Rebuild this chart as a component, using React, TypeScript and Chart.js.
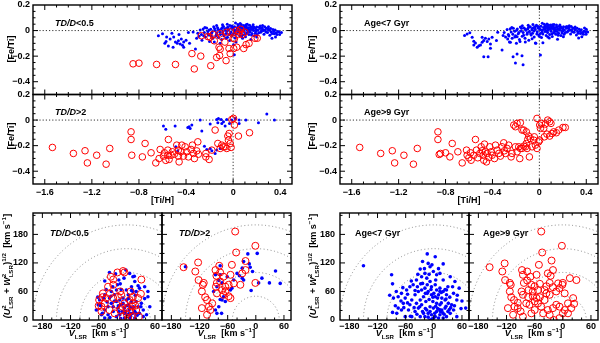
import React, { useEffect, useRef } from 'react';
import { Chart, registerables } from 'chart.js';

Chart.register(...registerables);

const W = 600;
const H = 343;
const M = 40;
const FONT = '"Liberation Sans", Arial, sans-serif';

// ---- axis ranges and tick values ----
const tiHRange = [-1.7, 0.5];
const feTiRange = [-0.5, 0.2];
const vLsrRange = [-200, 75];
const uwRange = [0, 225];
const tiHTicks = [-1.6, -1.2, -0.8, -0.4, 0, 0.4];
const feTiTicks = [-0.4, -0.2, 0, 0.2];
const vLsrTicks = [-180, -120, -60, 0, 60];
const uwTicks = [0, 60, 120, 180];
const circleRadii = [50, 100, 150, 200];

// ---- [Fe/Ti] vs [Ti/H] : TD/D < 0.5 ----
const tdLowBlueAbund = [
  [-0.635, -0.04], [-0.6, -0.025], [-0.57, -0.085], [-0.565, -0.05], [-0.55, -0.12], [-0.535, -0.065], [-0.51, -0.13], [-0.505, -0.05],
  [-0.49, -0.09], [-0.475, -0.1], [-0.465, -0.08], [-0.45, -0.105], [-0.44, -0.065], [-0.43, -0.115], [-0.42, -0.09], [-0.42, -0.13],
  [-0.4, -0.075], [-0.38, -0.015], [-0.37, -0.1], [-0.34, -0.012], [-0.32, -0.145], [-0.31, -0.06], [-0.52, -0.02], [-0.46, -0.03], [-0.58, -0.1],
  [-0.3, -0.02], [-0.29, -0.045], [-0.28, 0.005], [-0.27, -0.03], [-0.265, -0.075], [-0.255, 0.012], [-0.245, -0.015], [-0.235, -0.05],
  [-0.225, 0.02], [-0.215, -0.008], [-0.205, -0.035], [-0.2, -0.085], [-0.19, 0.01], [-0.185, -0.02], [-0.172, -0.06], [-0.165, 0.03],
  [-0.155, 0.0], [-0.148, -0.042], [-0.14, -0.018], [-0.132, 0.022], [-0.125, -0.055], [-0.118, 0.004], [-0.108, -0.03], [-0.1, 0.012],
  [-0.098, -0.07], [-0.088, -0.01], [-0.082, 0.032], [-0.076, -0.04], [-0.068, 0.002], [-0.06, -0.022], [-0.055, 0.02], [-0.048, -0.052],
  [-0.04, 0.008], [-0.035, -0.03], [-0.028, 0.04], [-0.02, -0.012], [-0.015, 0.018], [-0.008, -0.038], [0.0, 0.01], [0.004, -0.02],
  [0.012, 0.03], [0.015, -0.058], [0.02, 0.0], [0.028, -0.028], [0.033, 0.022], [0.04, 0.048], [0.044, -0.01], [0.05, 0.012],
  [0.055, -0.04], [0.06, 0.03], [0.065, -0.018], [0.072, 0.004], [0.078, 0.024], [0.083, -0.032], [0.09, 0.04], [0.094, -0.008],
  [0.1, 0.014], [0.105, -0.048], [0.112, 0.03], [0.115, -0.02], [0.122, 0.002], [0.13, 0.022], [0.134, -0.03], [0.14, 0.042],
  [0.145, -0.01], [0.152, 0.01], [0.16, -0.022], [0.165, 0.032], [0.172, 0.0], [0.18, -0.04], [0.185, 0.018], [0.192, -0.008],
  [0.2, 0.028], [0.21, 0.002], [0.218, -0.018], [0.228, 0.016], [0.24, -0.006], [0.25, 0.01], [0.262, -0.028], [0.272, 0.004],
  [0.282, 0.018], [0.292, -0.016], [0.305, 0.002], [0.312, -0.036], [0.322, -0.01], [0.338, 0.008], [0.35, -0.025], [0.365, -0.018],
  [0.38, -0.008], [0.395, -0.03], [0.41, -0.015], [0.36, -0.05], [0.33, -0.06], [0.2, -0.05], [0.15, -0.07], [0.025, -0.09],
  [-0.03, -0.078], [0.01, -0.19], [-0.11, -0.1], [-0.16, -0.09], [0.08, -0.06], [-0.05, 0.05], [0.02, 0.06], [0.06, 0.055],
  [0.12, 0.05], [-0.24, 0.025], [-0.14, 0.04], [0.25, 0.04], [0.3, 0.03], [-0.09, 0.045], [0.045, 0.035], [0.07, 0.045],
  [0.11, 0.045], [-0.01, 0.035], [0.17, 0.045], [0.23, 0.035], [0.004, -0.11],
  [-0.215, -0.025], [-0.205, 0.004], [-0.178, -0.012], [-0.158, 0.016], [-0.142, -0.03], [-0.128, 0.008], [-0.112, -0.014],
  [-0.094, 0.022], [-0.086, -0.026], [-0.072, 0.014], [-0.052, -0.006], [-0.044, 0.026], [-0.024, -0.024], [-0.004, 0.026],
  [0.008, 0.004], [0.018, -0.012], [0.036, 0.008], [0.047, 0.026], [0.062, -0.006], [0.068, 0.018], [0.086, 0.01], [0.098, 0.028],
  [0.104, -0.026], [0.118, 0.014], [0.126, -0.01], [0.138, 0.006], [0.149, 0.026], [0.156, -0.034], [0.168, 0.014], [0.178, 0.026],
  [0.188, -0.02], [0.196, 0.008], [0.204, -0.03], [0.222, 0.026], [0.234, -0.014], [0.246, 0.022], [0.258, 0.0], [0.268, 0.03],
  [0.278, -0.012], [0.296, 0.012], [0.318, 0.016], [0.33, -0.022], [0.344, -0.008], [0.356, 0.004], [0.372, -0.03], [0.39, -0.012],
  [-0.25, -0.04], [-0.185, -0.045], [-0.06, -0.06], [0.07, -0.045],
];
const tdLowRedAbund = [
  [-0.85, -0.26], [-0.8, -0.255], [-0.65, -0.265], [-0.49, -0.265], [-0.33, -0.3], [-0.19, -0.275], [-0.35, -0.18], [-0.275, -0.2],
  [-0.14, -0.21], [-0.115, -0.195], [-0.06, -0.235], [-0.12, -0.13], [-0.11, -0.145], [-0.07, -0.09], [-0.025, -0.18], [-0.035, -0.14],
  [0.005, -0.14], [0.03, -0.13], [0.09, -0.14], [0.11, -0.11], [0.135, -0.1], [0.185, -0.06], [0.205, -0.06], [0.0, -0.06],
  [0.01, -0.065], [0.03, 0.0], [0.05, -0.01], [0.065, 0.01], [-0.27, -0.04], [-0.215, -0.047], [-0.195, -0.052], [-0.17, -0.03],
  [-0.16, -0.08], [-0.11, -0.025], [-0.1, -0.045], [0.045, -0.03], [0.08, -0.03], [0.1, -0.013], [-0.055, -0.013], [-0.025, -0.01],
];

// ---- [Fe/Ti] vs [Ti/H] : TD/D > 2 ----
const tdHighBlueAbund = [
  [-0.592, -0.047], [-0.572, -0.071], [-0.493, -0.047], [-0.385, -0.058], [-0.374, -0.052], [-0.351, -0.039], [-0.365, -0.065],
  [-0.28, 0.0], [-0.266, -0.086], [-0.195, -0.031], [-0.139, 0.005], [-0.13, -0.021], [-0.125, 0.013], [-0.102, 0.005],
  [-0.096, -0.026], [-0.082, -0.013], [-0.068, -0.047], [-0.054, 0.005], [-0.031, -0.026], [-0.011, 0.0], [0.017, 0.013],
  [0.051, 0.0], [0.051, -0.026], [0.108, 0.0], [0.215, -0.021], [0.286, 0.047], [0.351, 0.0], [-0.244, -0.204],
  [-0.224, -0.23], [-0.195, -0.222], [-0.181, -0.24], [-0.153, -0.261], [-0.139, -0.235], [-0.11, -0.222], [-0.487, -0.209], [-0.47, -0.24],
];
const tdHighRedAbund = [
  [-1.535, -0.214], [-1.357, -0.261], [-1.258, -0.24], [-1.238, -0.335], [-1.159, -0.275], [-1.079, -0.345], [-1.048, -0.222],
  [-0.867, -0.092], [-0.867, -0.152], [-0.861, -0.275], [-0.771, -0.288], [-0.748, -0.183], [-0.697, -0.256], [-0.657, -0.335],
  [-0.62, -0.23], [-0.629, -0.301], [-0.592, -0.282], [-0.584, -0.256], [-0.555, -0.275], [-0.544, -0.308], [-0.527, -0.275],
  [-0.555, -0.235], [-0.516, -0.248], [-0.499, -0.267], [-0.479, -0.196], [-0.465, -0.235], [-0.465, -0.282], [-0.459, -0.327],
  [-0.442, -0.248], [-0.422, -0.282], [-0.408, -0.209], [-0.394, -0.248], [-0.38, -0.288], [-0.357, -0.23], [-0.346, -0.196],
  [-0.337, -0.261], [-0.329, -0.301], [-0.309, -0.241], [-0.3, -0.17], [-0.295, -0.267], [-0.55, -0.152], [-0.572, -0.315],
  [-0.436, -0.196], [-0.232, -0.261], [-0.232, -0.288], [-0.204, -0.308], [-0.181, -0.235], [-0.153, -0.078], [-0.13, -0.183],
  [-0.11, -0.222], [-0.096, -0.196], [-0.082, -0.209], [-0.068, -0.209], [-0.054, -0.222], [-0.045, -0.125], [-0.04, -0.157],
  [-0.034, -0.105], [-0.025, -0.183], [-0.017, -0.214], [-0.011, 0.005], [0.003, 0.013], [0.011, -0.039], [0.045, -0.125], [0.139, -0.099],
];

// ---- [Fe/Ti] vs [Ti/H] : Age < 7 Gyr ----
const youngBlueAbund = [
  [-0.638, -0.039], [-0.616, -0.026], [-0.593, -0.018], [-0.573, -0.052], [-0.559, -0.084], [-0.559, -0.112], [-0.545, -0.097],
  [-0.53, -0.131], [-0.516, -0.118], [-0.502, -0.112], [-0.488, -0.052], [-0.488, -0.092], [-0.474, -0.078], [-0.46, -0.06],
  [-0.445, -0.086], [-0.431, -0.065], [-0.417, -0.105], [-0.417, -0.139], [-0.403, -0.052], [-0.366, -0.078], [-0.355, -0.013],
  [-0.318, -0.152], [-0.309, -0.039], [-0.474, -0.204], [-0.437, -0.204],
  [-0.224, -0.204], [-0.19, -0.183], [-0.148, -0.196], [-0.204, -0.254], [-0.139, -0.267], [0.009, -0.191],
  [-0.3, -0.015], [-0.288, -0.05], [-0.275, 0.008], [-0.265, -0.03], [-0.255, -0.09], [-0.248, 0.015], [-0.24, -0.012],
  [-0.232, -0.06], [-0.222, 0.018], [-0.21, -0.005], [-0.202, -0.04], [-0.196, -0.1], [-0.188, 0.012], [-0.18, -0.025],
  [-0.17, -0.07], [-0.162, 0.028], [-0.155, -0.004], [-0.146, -0.045], [-0.138, -0.015], [-0.13, 0.02], [-0.122, -0.06],
  [-0.115, 0.002], [-0.105, -0.028], [-0.098, 0.015], [-0.09, -0.075], [-0.085, -0.008], [-0.078, 0.03], [-0.07, -0.035],
  [-0.064, 0.004], [-0.058, -0.02], [-0.05, 0.022], [-0.044, -0.05], [-0.036, 0.01], [-0.03, -0.1], [-0.025, 0.042],
  [-0.018, -0.01], [-0.012, 0.02], [-0.005, -0.035], [0.002, 0.012], [0.008, -0.022], [0.014, 0.034], [0.018, -0.055],
  [0.024, 0.002], [0.03, -0.026], [0.036, 0.024], [0.042, 0.05], [0.048, -0.008], [0.053, 0.014], [0.058, -0.038],
  [0.064, 0.032], [0.07, -0.016], [0.076, 0.006], [0.082, 0.026], [0.088, -0.03], [0.094, 0.044], [0.1, -0.006],
  [0.106, 0.016], [0.11, -0.046], [0.116, 0.032], [0.122, -0.018], [0.128, 0.004], [0.134, 0.024], [0.14, -0.028],
  [0.146, 0.044], [0.152, -0.008], [0.158, 0.012], [0.164, -0.02], [0.17, 0.034], [0.176, 0.002], [0.184, -0.038],
  [0.19, 0.02], [0.198, -0.006], [0.206, 0.03], [0.214, 0.004], [0.222, -0.016], [0.232, 0.018], [0.244, -0.004],
  [0.254, 0.012], [0.266, -0.026], [0.276, 0.006], [0.286, 0.02], [0.296, -0.014], [0.308, 0.004], [0.316, -0.034],
  [0.326, -0.008], [0.34, 0.01], [0.352, -0.022], [0.368, -0.016], [0.382, -0.006], [0.398, -0.028], [0.412, -0.012],
  [0.362, -0.048], [0.335, -0.058], [0.205, -0.048], [0.155, -0.068], [0.03, -0.095], [-0.034, -0.097], [-0.247, -0.092],
  [-0.12, -0.09], [-0.165, -0.085], [0.085, -0.058], [-0.055, 0.048], [0.025, 0.058], [0.065, 0.052], [0.125, 0.048],
  [-0.235, 0.025], [-0.145, 0.038], [0.255, 0.038], [0.305, 0.028], [-0.095, 0.042], [0.05, 0.038], [0.075, 0.044],
  [0.112, 0.046], [-0.015, 0.034], [0.175, 0.044], [0.235, 0.032], [0.0, -0.045], [-0.21, -0.05], [-0.27, -0.065],
  [0.385, 0.02], [0.4, 0.01],
  [-0.226, -0.028], [-0.194, 0.002], [-0.174, -0.016], [-0.152, 0.018], [-0.134, -0.036], [-0.118, 0.01], [-0.102, -0.018],
  [-0.092, 0.026], [-0.074, -0.024], [-0.062, 0.016], [-0.046, -0.004], [-0.038, 0.03], [-0.022, -0.026], [-0.002, 0.028],
  [0.012, 0.006], [0.022, -0.014], [0.04, 0.01], [0.05, 0.028], [0.066, -0.004], [0.073, 0.02], [0.09, 0.012], [0.102, 0.03],
  [0.108, -0.024], [0.12, 0.016], [0.131, -0.008], [0.142, 0.008], [0.151, 0.028], [0.161, -0.036], [0.171, 0.016],
  [0.181, 0.03], [0.193, -0.018], [0.202, 0.01], [0.211, -0.028], [0.226, 0.028], [0.238, -0.012], [0.25, 0.024],
  [0.262, 0.002], [0.272, 0.032], [0.282, -0.01], [0.3, 0.014], [0.322, 0.018], [0.332, -0.02], [0.348, -0.006],
  [0.358, 0.006], [0.376, -0.028], [0.394, -0.01], [-0.26, -0.042], [-0.19, -0.048], [-0.062, -0.064], [0.072, -0.05],
];

// ---- [Fe/Ti] vs [Ti/H] : Age > 9 Gyr ----
const oldRedAbund = [
  [-1.532, -0.214], [-1.353, -0.261], [-1.254, -0.24], [-1.234, -0.335], [-1.155, -0.275], [-1.074, -0.345], [-1.041, -0.222],
  [-0.865, -0.092], [-0.865, -0.152], [-0.854, -0.269], [-0.843, -0.261], [-0.8, -0.256], [-0.763, -0.288], [-0.743, -0.183],
  [-0.695, -0.248], [-0.658, -0.335], [-0.621, -0.235], [-0.616, -0.275], [-0.601, -0.295], [-0.587, -0.256], [-0.582, -0.314],
  [-0.559, -0.275], [-0.545, -0.152], [-0.536, -0.235], [-0.525, -0.295], [-0.508, -0.261], [-0.496, -0.209], [-0.488, -0.24],
  [-0.479, -0.275], [-0.474, -0.314], [-0.468, -0.188], [-0.46, -0.248], [-0.451, -0.327], [-0.445, -0.261], [-0.431, -0.293],
  [-0.423, -0.209], [-0.411, -0.248], [-0.403, -0.275], [-0.383, -0.301], [-0.374, -0.196], [-0.36, -0.235], [-0.346, -0.261],
  [-0.332, -0.282], [-0.318, -0.209], [-0.304, -0.178], [-0.298, -0.24], [-0.289, -0.261], [-0.275, -0.222], [-0.261, -0.196],
  [-0.241, -0.288], [-0.233, -0.261], [-0.204, -0.209], [-0.19, -0.248], [-0.176, -0.209], [-0.167, -0.301], [-0.162, -0.222],
  [-0.148, -0.222], [-0.133, -0.204], [-0.119, -0.209], [-0.111, -0.183], [-0.105, -0.222], [-0.099, -0.152], [-0.091, -0.125],
  [-0.085, -0.288], [-0.077, -0.144], [-0.062, -0.209], [-0.048, -0.157], [-0.043, -0.131], [-0.034, -0.196], [-0.02, -0.222],
  [-0.006, -0.17], [0.003, -0.157], [-0.02, 0.013], [0.003, -0.039], [0.009, -0.065], [0.017, -0.026], [0.037, -0.065],
  [0.051, -0.031], [0.071, 0.0], [0.088, -0.013], [0.099, -0.026], [-0.218, -0.039], [-0.204, -0.052], [-0.19, -0.026],
  [-0.162, -0.021], [-0.148, -0.078], [-0.111, -0.092], [-0.133, -0.078], [0.043, -0.131], [0.065, -0.11], [0.088, -0.125],
  [0.108, -0.105], [0.122, -0.092], [0.145, -0.099], [0.165, -0.078], [0.201, -0.058], [0.221, -0.058],
];

// ---- Toomre diagram: TD/D < 0.5 ----
const tdLowBlueKin = [
  [-47, 82], [-37, 100], [-24, 97], [-17, 84], [-14, 76], [-2, 105], [6, 98], [13, 91], [17, 81], [10, 70], [-1, 63], [-12, 64],
  [-22, 63], [-33, 60], [-26, 53], [-37, 46], [-47, 53], [-58, 42], [-61, 32], [-65, 21], [-54, 11], [-47, 21], [-40, 28], [-33, 35],
  [-22, 39], [-15, 42], [-8, 46], [3, 53], [13, 60], [20, 60], [27, 67], [38, 70], [45, 49], [49, 28], [31, 35], [35, 21], [42, 11],
  [27, 14], [17, 18], [6, 14], [-5, 14], [-15, 11], [-22, 7], [-29, 18], [-5, 25], [3, 32], [10, 39], [20, 39], [-5, 4], [6, 4],
  [17, 4], [24, 28], [-12, 32], [-19, 25], [-29, 28], [-40, 11], [-47, 4], [35, 7], [-1, 42], [5, 21], [12, 14], [-10, 18],
  [-17, 18], [13, 25], [20, 14],
  [2, 12], [8, 8], [-3, 18], [14, 28], [-8, 35], [4, 45], [18, 52], [-18, 30], [-26, 40], [-34, 50], [-42, 38], [-50, 46],
  [-56, 30], [-62, 48], [10, 62], [24, 72], [16, 92], [-6, 88], [-20, 74], [-30, 70], [0, 30], [7, 27], [-13, 3], [22, 10],
  [30, 28], [38, 45], [45, 60], [-44, 64], [-52, 14], [-36, 5],
];
const tdLowRedKin = [
  [-34, 91], [-29, 85], [-8, 103], [-5, 100], [31, 85], [-12, 53], [13, 49], [24, 46], [-54, 28], [-47, 35], [-59, 42], [-51, 56],
  [-40, 70], [-29, 74], [-22, 32], [-14, 21], [-1, 25], [6, 18], [12, 28], [20, 21], [26, 7], [10, 7], [3, 4], [-37, 21], [-26, 14],
  [-8, 7], [13, 35], [-54, 18], [6, 42], [-5, 35], [-19, 49], [-29, 46], [-44, 46],
  [-60, 30], [-52, 48], [-20, 100], [-14, 60], [8, 60], [18, 30], [0, 12], [-10, 28], [30, 55], [-36, 55],
];

// ---- Toomre diagram: TD/D > 2 ----
const tdHighBlueKin = [
  [-17, 139], [3, 140], [-26, 123], [-14, 118], [-29, 109], [-7, 102], [-12, 111], [-35, 93], [-29, 88], [-26, 84], [-40, 98],
  [-76, 114], [-86, 95], [-76, 95], [-79, 83], [-72, 78], [-83, 70], [-61, 91], [-47, 84], [42, 103], [29, 78], [52, 77], [-10, 62],
  [6, 78], [13, 88], [-69, 49], [-76, 43], [-72, 42], [-65, 39], [-51, 67], [-54, 63], [-90, 60], [-86, 21], [-79, 28], [-73, 14],
  [-83, 14], [-150, 112],
];
const tdHighRedKin = [
  [-44, 186], [-1, 156], [-42, 142], [-22, 124], [-51, 116], [-78, 114], [-129, 102], [-123, 121], [-86, 105], [-76, 100], [-84, 93],
  [-69, 91], [-54, 95], [-29, 98], [-22, 105], [-122, 84], [-111, 78], [-113, 74], [-83, 78], [-76, 81], [-65, 70], [-58, 74],
  [-47, 77], [-33, 74], [-115, 60], [-108, 48], [-104, 42], [-93, 35], [-100, 28], [-115, 25], [-97, 21], [-104, 11], [-83, 56],
  [-69, 53], [-58, 50], [-54, 46], [-72, 63], [-65, 60], [-1, 78], [-85, 70], [-154, 111],
];

// ---- Toomre diagram: Age < 7 Gyr ----
const youngBlueKin = [
  [-150, 114], [-14, 139], [3, 133], [-24, 123], [-12, 119], [-8, 112], [-29, 107], [-1, 102], [-19, 98], [6, 95], [13, 98],
  [20, 84], [35, 91], [45, 81], [54, 67], [49, 42], [27, 63], [13, 67], [3, 74], [-8, 81], [-15, 88], [-26, 91], [-37, 84],
  [-44, 74], [-51, 70], [-58, 63], [-69, 56], [-76, 49], [-86, 46], [-88, 76], [-90, 95], [-76, 25], [-79, 14], [-69, 21], [-61, 7],
  [-51, 32], [-47, 42], [-40, 53], [-33, 60], [-26, 63], [-19, 67], [-12, 60], [-5, 53], [3, 49], [10, 53], [17, 46], [24, 42],
  [31, 35], [38, 32], [42, 21], [35, 14], [27, 7], [20, 4], [13, 11], [6, 18], [-1, 25], [-8, 28], [-15, 21], [-22, 14], [-29, 7],
  [-19, 7], [-12, 14], [-5, 11], [3, 7], [10, 4], [17, 21], [24, 25], [13, 32], [6, 35], [-2, 39], [-10, 43], [-17, 39], [-26, 32],
  [-33, 25], [-40, 18], [-47, 7], [-54, 21], [27, 53], [42, 56], [13, 60], [-14, 74], [-24, 77], [-35, 70], [-61, 46], [-65, 35],
  [-5, 70], [6, 63], [20, 60], [-22, 49], [-29, 42], [-37, 35], [49, 7], [-1, 4], [-8, 0], [-14, 56], [4, 29], [12, 22], [19, 15],
  [26, 29], [33, 22], [68, 25],
  [-4, 2], [2, 14], [8, 24], [14, 18], [22, 12], [30, 18], [36, 26], [44, 30], [-12, 6], [-18, 24], [-24, 18], [-30, 28],
  [-36, 12], [-42, 26], [-50, 8], [-56, 36], [-64, 26], [-70, 40], [-82, 30], [-88, 16], [-94, 52], [0, 56], [8, 46], [16, 58],
  [24, 64], [34, 48], [40, 70], [50, 52], [58, 24], [60, 40], [-6, 64], [-18, 56], [-28, 76], [-40, 62], [-48, 82], [-34, 96],
  [-20, 108], [-4, 116], [10, 108], [20, 118], [30, 70], [4, 84], [-10, 96], [-56, 54], [-66, 68], [-80, 60], [16, 36], [26, 44],
  [-2, 48], [-8, 18],
];

// ---- Toomre diagram: Age > 9 Gyr ----
const oldRedKin = [
  [-46, 186], [-2, 156], [-44, 142], [-156, 111], [-129, 102], [-124, 119], [-87, 105], [-76, 102], [-85, 95], [-69, 91], [-56, 95],
  [-51, 116], [-24, 125], [-21, 105], [-32, 98], [15, 88], [29, 84], [0, 78], [-1, 74], [-123, 84], [-113, 78], [-111, 74],
  [-83, 78], [-76, 83], [-67, 74], [-60, 71], [-49, 76], [-35, 71], [-28, 78], [-53, 63], [-64, 60], [-73, 63], [-88, 60],
  [-85, 53], [-74, 48], [-64, 50], [-56, 46], [-49, 48], [-60, 39], [-71, 32], [-78, 35], [-53, 35], [-46, 28], [-39, 42],
  [-35, 56], [-28, 53], [-113, 60], [-110, 48], [-104, 42], [-96, 36], [-103, 28], [-117, 25], [-96, 25], [-90, 18], [-106, 11],
  [-85, 7], [-67, 14], [-60, 21], [-42, 14], [-32, 21], [-21, 25], [-14, 32], [-7, 28], [4, 21], [11, 35], [22, 46], [24, 34],
  [18, 25], [11, 14], [0, 14], [-7, 4], [-19, 0], [-28, 11], [-14, 60], [-7, 67], [4, 56], [-21, 69], [-10, 77], [-26, 93], [-39, 63],
];

// ---- text pieces ----
type Seg = { t?: string; it?: boolean; sup?: string; sub?: string };
const feTiTitle: Seg[] = [{ t: '[Fe/Ti]' }];
const tiHTitle: Seg[] = [{ t: '[Ti/H]' }];
const vTitle: Seg[] = [{ t: 'V', it: true }, { sub: 'LSR' }, { t: '  [km s' }, { sup: '\u22121' }, { t: ']' }];
const uwTitle: Seg[] = [
  { t: '(U', it: true }, { sup: '2', sub: 'LSR' }, { t: ' + ' }, { t: 'W', it: true }, { sup: '2', sub: 'LSR' }, { t: ')' },
  { sup: '1/2' }, { t: '  [km s' }, { sup: '\u22121' }, { t: ']' },
];
const tdLowLabel: Seg[] = [{ t: 'TD/D', it: true }, { t: '<0.5' }];
const tdHighLabel: Seg[] = [{ t: 'TD/D', it: true }, { t: '>2' }];
const youngLabel: Seg[] = [{ t: 'Age<7 Gyr' }];
const oldLabel: Seg[] = [{ t: 'Age>9 Gyr' }];

type Title = { segs: Seg[]; x: number; y: number; rot: number };
type Panel = {
  kind: 'abund' | 'kin';
  area: [number, number, number, number];
  showX: boolean;
  showY: boolean;
  red: number[][];
  blue: number[][];
  label: Seg[];
  labelAt: [number, number];
  titles: Title[];
};

const panels: Panel[] = [
  { kind: 'abund', area: [33, 5, 292, 94.5], showX: false, showY: true, red: tdLowRedAbund, blue: tdLowBlueAbund, label: tdLowLabel, labelAt: [55, 24],
    titles: [{ segs: feTiTitle, x: 12, y: 49, rot: -Math.PI / 2 }] },
  { kind: 'abund', area: [33, 94.5, 292, 184], showX: true, showY: true, red: tdHighRedAbund, blue: tdHighBlueAbund, label: tdHighLabel, labelAt: [55, 113],
    titles: [{ segs: feTiTitle, x: 12, y: 136, rot: -Math.PI / 2 }, { segs: tiHTitle, x: 162.5, y: 201, rot: 0 }] },
  { kind: 'abund', area: [340, 5, 598, 94.5], showX: false, showY: true, red: [], blue: youngBlueAbund, label: youngLabel, labelAt: [364, 24],
    titles: [{ segs: feTiTitle, x: 313, y: 49, rot: -Math.PI / 2 }] },
  { kind: 'abund', area: [340, 94.5, 598, 184], showX: true, showY: true, red: oldRedAbund, blue: [], label: oldLabel, labelAt: [364, 113],
    titles: [{ segs: feTiTitle, x: 313, y: 136, rot: -Math.PI / 2 }, { segs: tiHTitle, x: 469, y: 201, rot: 0 }] },
  { kind: 'kin', area: [33, 213, 162, 320], showX: true, showY: true, red: tdLowRedKin, blue: tdLowBlueKin, label: tdLowLabel, labelAt: [50, 234],
    titles: [{ segs: uwTitle, x: 8, y: 266, rot: -Math.PI / 2 }, { segs: vTitle, x: 97.5, y: 334, rot: 0 }] },
  { kind: 'kin', area: [162, 213, 291, 320], showX: true, showY: false, red: tdHighRedKin, blue: tdHighBlueKin, label: tdHighLabel, labelAt: [179, 234],
    titles: [{ segs: vTitle, x: 226.5, y: 334, rot: 0 }] },
  { kind: 'kin', area: [340, 213, 469, 320], showX: true, showY: true, red: [], blue: youngBlueKin, label: youngLabel, labelAt: [355, 234],
    titles: [{ segs: uwTitle, x: 314, y: 266, rot: -Math.PI / 2 }, { segs: vTitle, x: 404.5, y: 334, rot: 0 }] },
  { kind: 'kin', area: [469, 213, 598, 320], showX: true, showY: false, red: oldRedKin, blue: [], label: oldLabel, labelAt: [483, 234],
    titles: [{ segs: vTitle, x: 533.5, y: 334, rot: 0 }] },
];

const font = (size: number, it?: boolean) => `${it ? 'italic ' : ''}bold ${size}px ${FONT}`;

function drawRich(ctx: CanvasRenderingContext2D, segs: Seg[], x: number, y: number, rot: number, align: 'left' | 'center', size: number) {
  const ss = size * 0.68;
  const widths = segs.map((s) => {
    if (s.t !== undefined) {
      ctx.font = font(size, s.it);
      return ctx.measureText(s.t).width;
    }
    ctx.font = font(ss);
    return Math.max(ctx.measureText(s.sup || '').width, ctx.measureText(s.sub || '').width) + 0.5;
  });
  const total = widths.reduce((a, b) => a + b, 0);
  ctx.save();
  ctx.translate(x, y);
  ctx.rotate(rot);
  ctx.fillStyle = '#000';
  ctx.textBaseline = 'middle';
  ctx.textAlign = 'left';
  let cx = align === 'center' ? -total / 2 : 0;
  segs.forEach((s, i) => {
    if (s.t !== undefined) {
      ctx.font = font(size, s.it);
      ctx.fillText(s.t, cx, 0);
    } else {
      ctx.font = font(ss);
      if (s.sup) ctx.fillText(s.sup, cx, -size * 0.38);
      if (s.sub) ctx.fillText(s.sub, cx, size * 0.34);
    }
    cx += widths[i];
  });
  ctx.restore();
}

function drawTicks(ctx: CanvasRenderingContext2D, a: any, scale: any, min: number, max: number, step: number, ratio: number, horiz: boolean) {
  const k0 = Math.ceil(min / step - 1e-6);
  const k1 = Math.floor(max / step + 1e-6);
  ctx.beginPath();
  for (let k = k0; k <= k1; k++) {
    const v = k * step;
    const p = scale.getPixelForValue(v);
    const len = ((k % ratio) + ratio) % ratio === 0 ? 5 : 2.5;
    if (horiz) {
      if (p < a.left + 1 || p > a.right - 1) continue;
      ctx.moveTo(p, a.bottom); ctx.lineTo(p, a.bottom - len);
      ctx.moveTo(p, a.top); ctx.lineTo(p, a.top + len);
    } else {
      if (p < a.top + 1 || p > a.bottom - 1) continue;
      ctx.moveTo(a.left, p); ctx.lineTo(a.left + len, p);
      ctx.moveTo(a.right, p); ctx.lineTo(a.right - len, p);
    }
  }
  ctx.stroke();
}

function makeDeco(p: Panel) {
  return {
    id: 'deco',
    beforeDatasetsDraw(chart: any) {
      const { ctx, chartArea: a } = chart;
      const xs = chart.scales.x;
      const ys = chart.scales.y;
      ctx.save();
      ctx.beginPath();
      ctx.rect(a.left, a.top, a.right - a.left, a.bottom - a.top);
      ctx.clip();
      if (p.kind === 'abund') {
        ctx.strokeStyle = '#000';
        ctx.lineWidth = 0.8;
        ctx.setLineDash([1.2, 2]);
        const y0 = ys.getPixelForValue(0);
        const x0 = xs.getPixelForValue(0);
        ctx.beginPath();
        ctx.moveTo(a.left, y0); ctx.lineTo(a.right, y0);
        ctx.moveTo(x0, a.top); ctx.lineTo(x0, a.bottom);
        ctx.stroke();
      } else {
        ctx.strokeStyle = '#707070';
        ctx.lineWidth = 0.8;
        ctx.setLineDash([1, 2.5]);
        const cx = xs.getPixelForValue(0);
        const cy = ys.getPixelForValue(0);
        for (const r of circleRadii) {
          const rx = xs.getPixelForValue(r) - cx;
          const ry = cy - ys.getPixelForValue(r);
          ctx.beginPath();
          ctx.ellipse(cx, cy, rx, ry, 0, Math.PI, 2 * Math.PI);
          ctx.stroke();
        }
      }
      ctx.restore();
    },
    afterDatasetsDraw(chart: any) {
      const { ctx, chartArea: a } = chart;
      const xs = chart.scales.x;
      const ys = chart.scales.y;
      ctx.save();
      ctx.strokeStyle = '#000';
      ctx.lineWidth = 1;
      if (p.kind === 'abund') {
        drawTicks(ctx, a, xs, tiHRange[0], tiHRange[1], 0.1, 4, true);
        drawTicks(ctx, a, ys, feTiRange[0], feTiRange[1], 0.05, 4, false);
      } else {
        drawTicks(ctx, a, xs, vLsrRange[0], vLsrRange[1], 20, 3, true);
        drawTicks(ctx, a, ys, uwRange[0], uwRange[1], 20, 3, false);
      }
      ctx.lineWidth = 1.4;
      ctx.strokeRect(a.left, a.top, a.right - a.left, a.bottom - a.top);
      ctx.restore();
      drawRich(ctx, p.label, p.labelAt[0] + M, p.labelAt[1] + M, 0, 'left', 9);
      for (const t of p.titles) drawRich(ctx, t.segs, t.x + M, t.y + M, t.rot, 'center', 9);
    },
  };
}

const fmt = (d: number) => (v: number) => {
  const s = Math.abs(v) < 1e-9 ? '0' : Number(v).toFixed(d);
  return s.replace('-', '\u2212');
};

function buildConfig(p: Panel): any {
  const [l, t, r, b] = p.area;
  const abund = p.kind === 'abund';
  const xr = abund ? tiHRange : vLsrRange;
  const yr = abund ? feTiRange : uwRange;
  const xt = abund ? tiHTicks : vLsrTicks;
  const yt = abund ? feTiTicks : uwTicks;
  const tickFont = { family: FONT, size: 9, weight: 'bold' as const };
  return {
    type: 'scatter',
    data: {
      datasets: [
        {
          data: p.red.map(([x, y]) => ({ x, y })),
          pointStyle: 'circle',
          pointRadius: abund ? 3.3 : 3.5,
          borderColor: '#ff0000',
          backgroundColor: 'rgba(0,0,0,0)',
          borderWidth: 1,
        },
        {
          data: p.blue.map(([x, y]) => ({ x, y })),
          pointStyle: 'circle',
          pointRadius: abund ? 1.5 : 1.8,
          borderColor: '#0000ff',
          backgroundColor: '#0000ff',
          borderWidth: 0,
        },
      ],
    },
    options: {
      responsive: false,
      animation: false,
      events: [],
      layout: { padding: { left: 0, top: t + M, right: W + M - r, bottom: 0 } },
      plugins: { legend: { display: false }, tooltip: { enabled: false } },
      scales: {
        x: {
          type: 'linear',
          position: 'bottom',
          min: xr[0],
          max: xr[1],
          grid: { display: false, drawTicks: false },
          border: { display: false },
          afterBuildTicks: (s: any) => { s.ticks = xt.map((value) => ({ value })); },
          afterFit: (s: any) => { s.height = H + M - b; },
          ticks: {
            display: p.showX,
            autoSkip: false,
            maxRotation: 0,
            padding: abund ? 3.5 : 1.5,
            color: '#000',
            font: tickFont,
            callback: fmt(abund ? 1 : 0),
          },
        },
        y: {
          type: 'linear',
          position: 'left',
          min: yr[0],
          max: yr[1],
          grid: { display: false, drawTicks: false },
          border: { display: false },
          afterBuildTicks: (s: any) => { s.ticks = yt.map((value) => ({ value })); },
          afterFit: (s: any) => { s.width = l + M; },
          ticks: {
            display: p.showY,
            autoSkip: false,
            padding: abund ? 3 : 5,
            color: '#000',
            font: tickFont,
            callback: fmt(abund ? 1 : 0),
          },
        },
      },
    },
    plugins: [makeDeco(p)],
  };
}

function PanelCanvas({ p }: { p: Panel }) {
  const ref = useRef<HTMLCanvasElement | null>(null);
  useEffect(() => {
    if (!ref.current) return;
    const chart = new Chart(ref.current, buildConfig(p));
    return () => chart.destroy();
  }, [p]);
  return (
    <canvas
      ref={ref}
      width={W + 2 * M}
      height={H + 2 * M}
      style={{ position: 'absolute', left: -M, top: -M, width: W + 2 * M, height: H + 2 * M }}
    />
  );
}

export default function App() {
  return (
    <div style={{ position: 'absolute', left: 0, top: 0, width: W, height: H, overflow: 'hidden', background: '#fff' }}>
      {panels.map((p, i) => (
        <PanelCanvas key={i} p={p} />
      ))}
    </div>
  );
}
